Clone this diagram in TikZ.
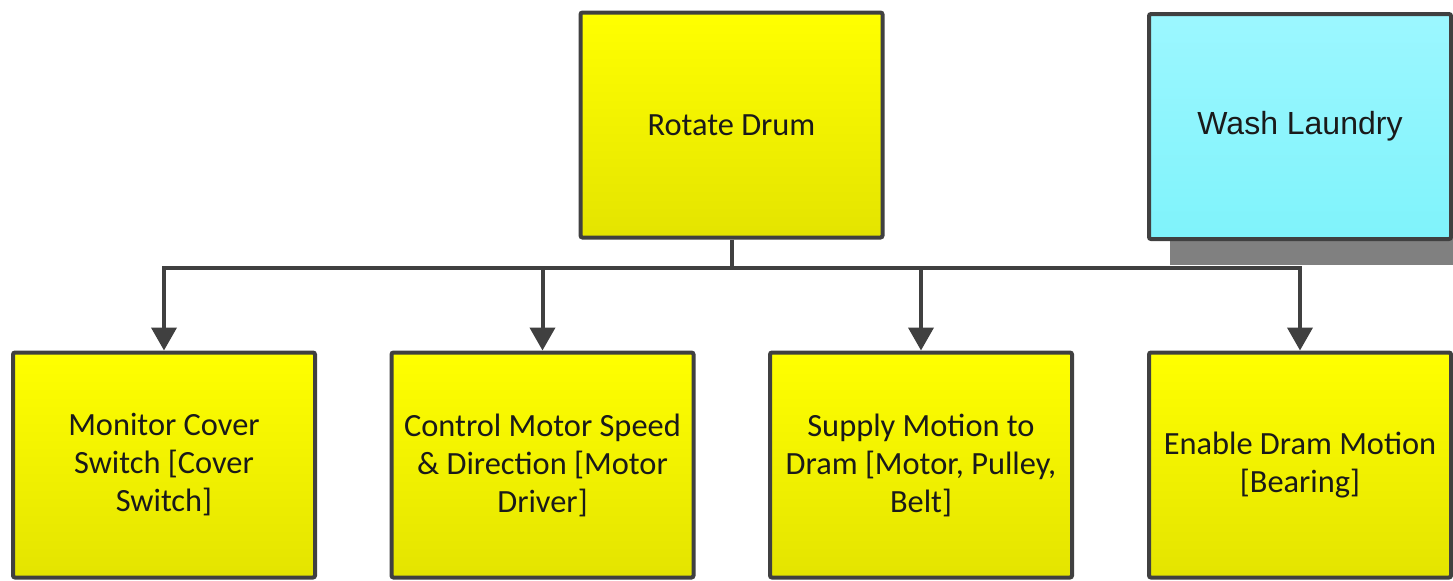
\documentclass[tikz,border=0pt]{standalone}
\usepackage{fontspec}
\setmainfont{Carlito}
\newfontfamily\arialf{Liberation Sans}
\usetikzlibrary{arrows.meta}
\definecolor{edgegray}{HTML}{404040}
\definecolor{ytop}{HTML}{FFFF00}
\definecolor{ybot}{HTML}{E4E400}
\definecolor{ctop}{HTML}{9CF7FF}
\definecolor{cbot}{HTML}{7FF3FB}
\definecolor{shadowgray}{HTML}{808080}
\definecolor{txt}{HTML}{1A1A1A}
\tikzset{
  ybox/.style={draw=edgegray, line width=2pt, rounded corners=1pt,
    top color=ytop, bottom color=ybot, text=txt, align=center,
    minimum width=151pt, minimum height=112.5pt, inner sep=0pt,
    font=\fontsize{16.2}{19}\selectfont},
  cbox/.style={draw=edgegray, line width=2pt, rounded corners=1pt,
    top color=ctop, bottom color=cbot, text=txt, align=center,
    minimum width=151pt, minimum height=112.5pt, inner sep=0pt,
    font=\arialf\fontsize{16}{19}\selectfont},
  conn/.style={draw=edgegray, line width=2pt},
  arr/.style={conn, -{Triangle[width=12.5pt,length=11.5pt]}}
}
\begin{document}
\begin{tikzpicture}[x=0.5pt,y=-0.5pt]
\useasboundingbox (0,0) rectangle (1453,580);
\fill[white] (0,0) rectangle (1453,580);
\fill[shadowgray] (1170,238) rectangle (1453,265);
\node[ybox] (rot) at (731.5,125) {Rotate Drum};
\node[cbox] (wash) at (1300,126.5) {Wash Laundry};
\node[ybox] (b1) at (164,465) {Monitor Cover\\Switch [Cover\\Switch]};
\node[ybox] (b2) at (542.5,465) {Control Motor Speed\\\& Direction [Motor\\Driver]};
\node[ybox] (b3) at (921,465) {Supply Motion to\\Dram [Motor, Pulley,\\Belt]};
\node[ybox] (b4) at (1300,465) {Enable Dram Motion\\{[Bearing]}};
\draw[conn] (rot.south) -- ++(0,28) coordinate (j);
\draw[arr] (j) -| (b1.north);
\draw[arr] (j) -| (b2.north);
\draw[arr] (j) -| (b3.north);
\draw[arr] (j) -| (b4.north);
\end{tikzpicture}
\end{document}
